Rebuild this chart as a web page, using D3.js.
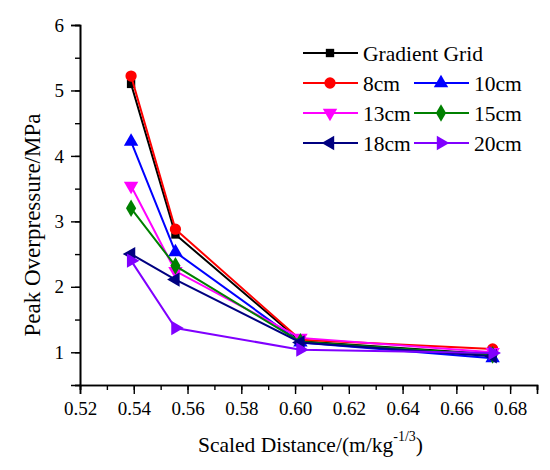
<!DOCTYPE html>
<html>
<head>
<meta charset="utf-8">
<script src="https://cdn.jsdelivr.net/npm/d3@7"></script>
<style>
  body { margin: 0; background: #fff; }
  text { font-family: "Liberation Serif", "Times New Roman", Times, Tinos, "DejaVu Serif"; fill: #000; }
</style>
</head>
<body>
<div id="chart"></div>
<script>
const distances = [0.539, 0.5555, 0.602, 0.6735];
const seriesNames = ['Gradient Grid', '8cm', '10cm', '13cm', '15cm', '18cm', '20cm'];
const gradientGrid = [5.10, 2.80, 1.17, 0.97];
const cm8 = [5.22, 2.88, 1.19, 1.05];
const cm10 = [4.22, 2.53, 1.15, 0.91];
const cm13 = [3.54, 2.24, 1.22, 1.00];
const cm15 = [3.20, 2.32, 1.16, 0.96];
const cm18 = [2.50, 2.11, 1.15, 0.94];
const cm20 = [2.40, 1.37, 1.04, 0.99];
const xTicks = [0.52, 0.54, 0.56, 0.58, 0.60, 0.62, 0.64, 0.66, 0.68];
const yTicks = [1, 2, 3, 4, 5, 6];

const width = 550, height = 470;
const margin = { left: 80, right: 13, top: 25, bottom: 85 };
const fontFamily = '"Liberation Serif", "Times New Roman", Times, Tinos, "DejaVu Serif"';

const colors = ['#000000', '#ff0000', '#0000ff', '#ff00ff', '#008000', '#000080', '#8000ff'];
// symbol type + rotation for each series marker
const markers = [
    { type: d3.symbolSquare, rot: 0, size: 70 },
    { type: d3.symbolCircle, rot: 0, size: 100 },
    { type: d3.symbolTriangle, rot: 0, size: 90 },
    { type: d3.symbolTriangle, rot: 180, size: 90 },
    { type: d3.symbolDiamond, rot: 0, size: 90 },
    { type: d3.symbolTriangle, rot: 270, size: 90 },
    { type: d3.symbolTriangle, rot: 90, size: 90 }
];
const values = [gradientGrid, cm8, cm10, cm13, cm15, cm18, cm20];
const series = seriesNames.map((name, i) => ({ name, values: values[i], color: colors[i], marker: markers[i] }));

const svg = d3.select('#chart').append('svg')
    .attr('width', width)
    .attr('height', height)
    .style('font-family', fontFamily);

const x = d3.scaleLinear().domain([0.52, 0.69]).range([margin.left, width - margin.right]);
const y = d3.scaleLinear().domain([0.5, 6]).range([height - margin.bottom, margin.top]);

// x axis, minor ticks every 0.01
const xAxis = svg.append('g').attr('transform', `translate(0,${height - margin.bottom})`);
xAxis.call(d3.axisBottom(x).tickValues(d3.range(0.52, 0.6901, 0.01)).tickSize(5).tickFormat(''));
xAxis.call(g => g.append('g').call(d3.axisBottom(x).tickValues(xTicks).tickSize(9).tickPadding(8)
    .tickFormat(d3.format('.2f'))));
xAxis.selectAll('.domain').attr('stroke-width', 1.6);
xAxis.selectAll('line').attr('stroke-width', 1.4);
xAxis.selectAll('text').style('font-size', '19px').style('font-family', fontFamily);

const yAxis = svg.append('g').attr('transform', `translate(${margin.left},0)`);
yAxis.call(d3.axisLeft(y).tickValues(d3.range(0.5, 6.01, 0.5)).tickSize(5).tickFormat(''));
yAxis.call(g => g.append('g').call(d3.axisLeft(y).tickValues(yTicks).tickSize(9).tickPadding(7)
    .tickFormat(d3.format('d'))));
yAxis.selectAll('.domain').attr('stroke-width', 1.6);
yAxis.selectAll('line').attr('stroke-width', 1.4);
yAxis.selectAll('text').style('font-size', '19px').style('font-family', fontFamily);

const line = d3.line().x((d, i) => x(distances[i])).y(d => y(d));

series.forEach(s => {
    svg.append('path')
        .datum(s.values)
        .attr('d', line)
        .attr('fill', 'none')
        .attr('stroke', s.color)
        .attr('stroke-width', 2);
    svg.selectAll(null)
        .data(s.values)
        .enter()
        .append('path')
        .attr('d', d3.symbol().type(s.marker.type).size(s.marker.size))
        .attr('transform', (d, i) => `translate(${x(distances[i])},${y(d)}) rotate(${s.marker.rot})`)
        .attr('fill', s.color);
});

// legend
const legend = svg.append('g');
const legendPos = [
    [303, 53], [303, 83], [414, 83], [303, 113], [414, 113], [303, 143], [414, 143]
];
series.forEach((s, i) => {
    const [lx, ly] = legendPos[i];
    const item = legend.append('g').attr('transform', `translate(${lx},${ly})`);
    item.append('line').attr('x1', 0).attr('x2', 55).attr('y1', 0).attr('y2', 0)
        .attr('stroke', s.color).attr('stroke-width', 2);
    item.append('path')
        .attr('d', d3.symbol().type(s.marker.type).size(s.marker.size))
        .attr('transform', `translate(27,0) rotate(${s.marker.rot})`)
        .attr('fill', s.color);
    item.append('text')
        .attr('x', 60)
        .attr('y', 7.5)
        .style('font-size', '21.5px')
        .text(s.name);
});

// axis titles
const xTitle = svg.append('text')
    .attr('x', 198)
    .attr('y', 452)
    .style('font-size', '21.5px');
xTitle.append('tspan').text('Scaled Distance/(m/kg');
xTitle.append('tspan').attr('dy', -11).style('font-size', '14px').text('-1/3');
xTitle.append('tspan').attr('dy', 11).text(')');

svg.append('text')
    .attr('transform', 'translate(40,225) rotate(-90)')
    .attr('text-anchor', 'middle')
    .style('font-size', '23px')
    .text('Peak Overpressure/MPa');
</script>
</body>
</html>
